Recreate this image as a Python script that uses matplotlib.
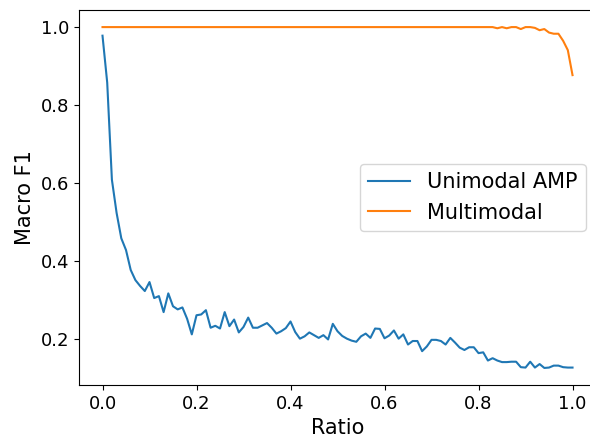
import numpy as np
import matplotlib
matplotlib.use("Agg")
import matplotlib.pyplot as plt

# ratio steps 0.00 .. 1.00
ratio = np.round(np.arange(0, 101) / 100, 2)

unimodal = [
    0.978, 0.858, 0.609, 0.524, 0.459, 0.429, 0.378, 0.352, 0.337, 0.324,
    0.347, 0.306, 0.311, 0.270, 0.318, 0.285, 0.277, 0.282, 0.253, 0.213,
    0.262, 0.264, 0.275, 0.230, 0.235, 0.228, 0.270, 0.234, 0.251, 0.218,
    0.232, 0.256, 0.230, 0.230, 0.236, 0.242, 0.230, 0.215, 0.221, 0.229,
    0.246, 0.219, 0.202, 0.208, 0.218, 0.211, 0.204, 0.211, 0.200, 0.240,
    0.221, 0.209, 0.202, 0.197, 0.194, 0.208, 0.215, 0.204, 0.228, 0.227,
    0.203, 0.210, 0.223, 0.202, 0.213, 0.187, 0.196, 0.196, 0.170, 0.182,
    0.199, 0.199, 0.196, 0.187, 0.204, 0.192, 0.179, 0.173, 0.180, 0.180,
    0.165, 0.167, 0.146, 0.152, 0.146, 0.142, 0.142, 0.143, 0.143, 0.129,
    0.128, 0.143, 0.128, 0.137, 0.127, 0.128, 0.133, 0.133, 0.129, 0.128,
    0.128,
]

multimodal = [1.0] * 84 + [
    0.997, 1.0, 0.997, 1.0, 1.0, 0.995, 1.0, 1.0, 0.998, 0.992,
    0.995, 0.986, 0.983, 0.983, 0.965, 0.941, 0.877,
]

fig = plt.figure(figsize=(5.9, 4.37), dpi=100)
ax = fig.add_axes([0.1339, 0.119, 0.8763, 0.858])

ax.plot(ratio, unimodal, label="Unimodal AMP")
ax.plot(ratio, multimodal, label="Multimodal")

ax.set_xlabel("Ratio", fontsize=15)
ax.set_ylabel("Macro F1", fontsize=15)
ax.tick_params(labelsize=13)
ax.legend(loc="center right", fontsize=15)

fig.savefig("out.png", dpi=100)
